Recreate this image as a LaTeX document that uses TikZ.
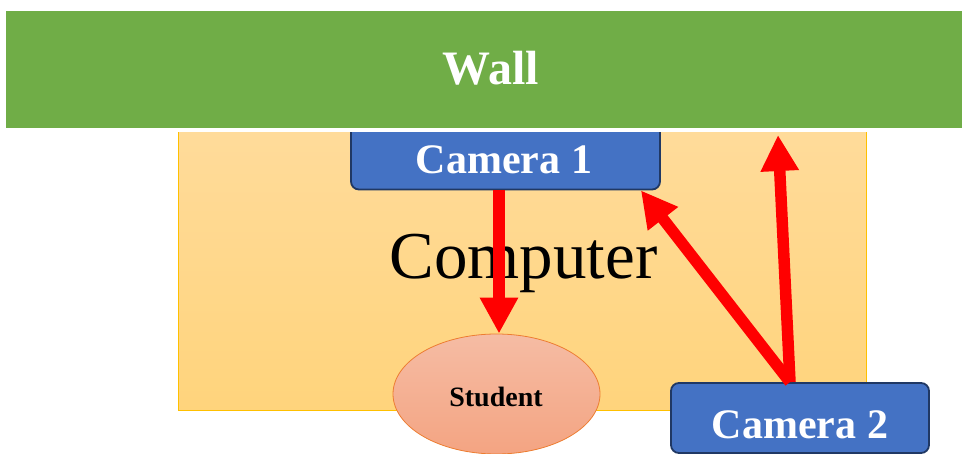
\documentclass[tikz,border=0pt]{standalone}
\usepackage{fontspec}
\setmainfont{Liberation Serif}
\usetikzlibrary{arrows.meta,calc,shapes.geometric}

\definecolor{wallgreen}{HTML}{70AD47}
\definecolor{pctop}{HTML}{FFDB9A}
\definecolor{pcbot}{HTML}{FFD47C}
\definecolor{pcline}{HTML}{FFC000}
\definecolor{camblue}{HTML}{4472C4}
\definecolor{camline}{HTML}{203864}
\definecolor{sttop}{HTML}{F5BCA4}
\definecolor{stbot}{HTML}{F4A482}
\definecolor{stline}{HTML}{ED7D31}
\definecolor{beam}{HTML}{FF0000}

\tikzset{
  cambox/.style={rectangle, rounded corners=8pt, fill=camblue, draw=camline,
    line width=1.8pt},
  camtext/.style={text=white, font=\fontsize{42}{42}\selectfont\bfseries},
  beamarrow/.style={draw=beam, line width=11.5pt,
    -{Triangle[length=36pt,width=36pt]}},
}

\begin{document}
\begin{tikzpicture}[x=1pt,y=-1pt]
  \useasboundingbox (0,0) rectangle (964,454);

  % computer surface
  \node (pc) [rectangle, minimum width=688pt, minimum height=278pt, inner sep=0pt,
    top color=pctop, bottom color=pcbot, draw=pcline, line width=1pt]
    at (522,271) {};

  % camera 1, its top tucked under the wall
  \node (cam1) [cambox, minimum width=309pt, minimum height=79pt, inner sep=0pt]
    at (505.5,150) {};
  \node (cam1label) [camtext] at (504,160) {Camera 1};

  % wall
  \node (wall) [rectangle, minimum width=960pt, minimum height=121pt, inner sep=0pt,
    fill=wallgreen, draw=white, line width=4pt]
    at (484,69.5) {};
  \node (walllabel) [text=white, font=\fontsize{48}{48}\selectfont\bfseries]
    at (491,68) {Wall};

  \node (pclabel) [font=\fontsize{67}{67}\selectfont, anchor=base]
    at (523.5,279) {Computer};

  % student
  \node (student) [ellipse, minimum width=207pt, minimum height=120pt, inner sep=0pt,
    top color=sttop, bottom color=stbot, draw=stline, line width=0.8pt]
    at (496.5,394) {};
  \node (studentlabel) [font=\fontsize{28}{28}\selectfont\bfseries]
    at (496,397) {Student};

  % camera 2
  \node (cam2) [cambox, minimum width=258pt, minimum height=70pt, inner sep=0pt]
    at (800,418) {};
  \node (cam2label) [camtext] at (800,425) {Camera 2};

  % lines of sight
  \coordinate (c2top) at ($(cam2.north)+(-10,0)$);
  \coordinate (c1corner) at ($(cam1.south east)+(-20,0)$);
  \coordinate (wallhit) at ($(wall.south)+(294,3)$);
  \draw[beamarrow] ($(student.north |- cam1.south)+(2.5,0)$) -- ($(student.north)+(2.5,0)$);
  \draw[beamarrow] (c2top) -- (c1corner);
  \draw[beamarrow] (c2top) -- (wallhit);
\end{tikzpicture}
\end{document}
